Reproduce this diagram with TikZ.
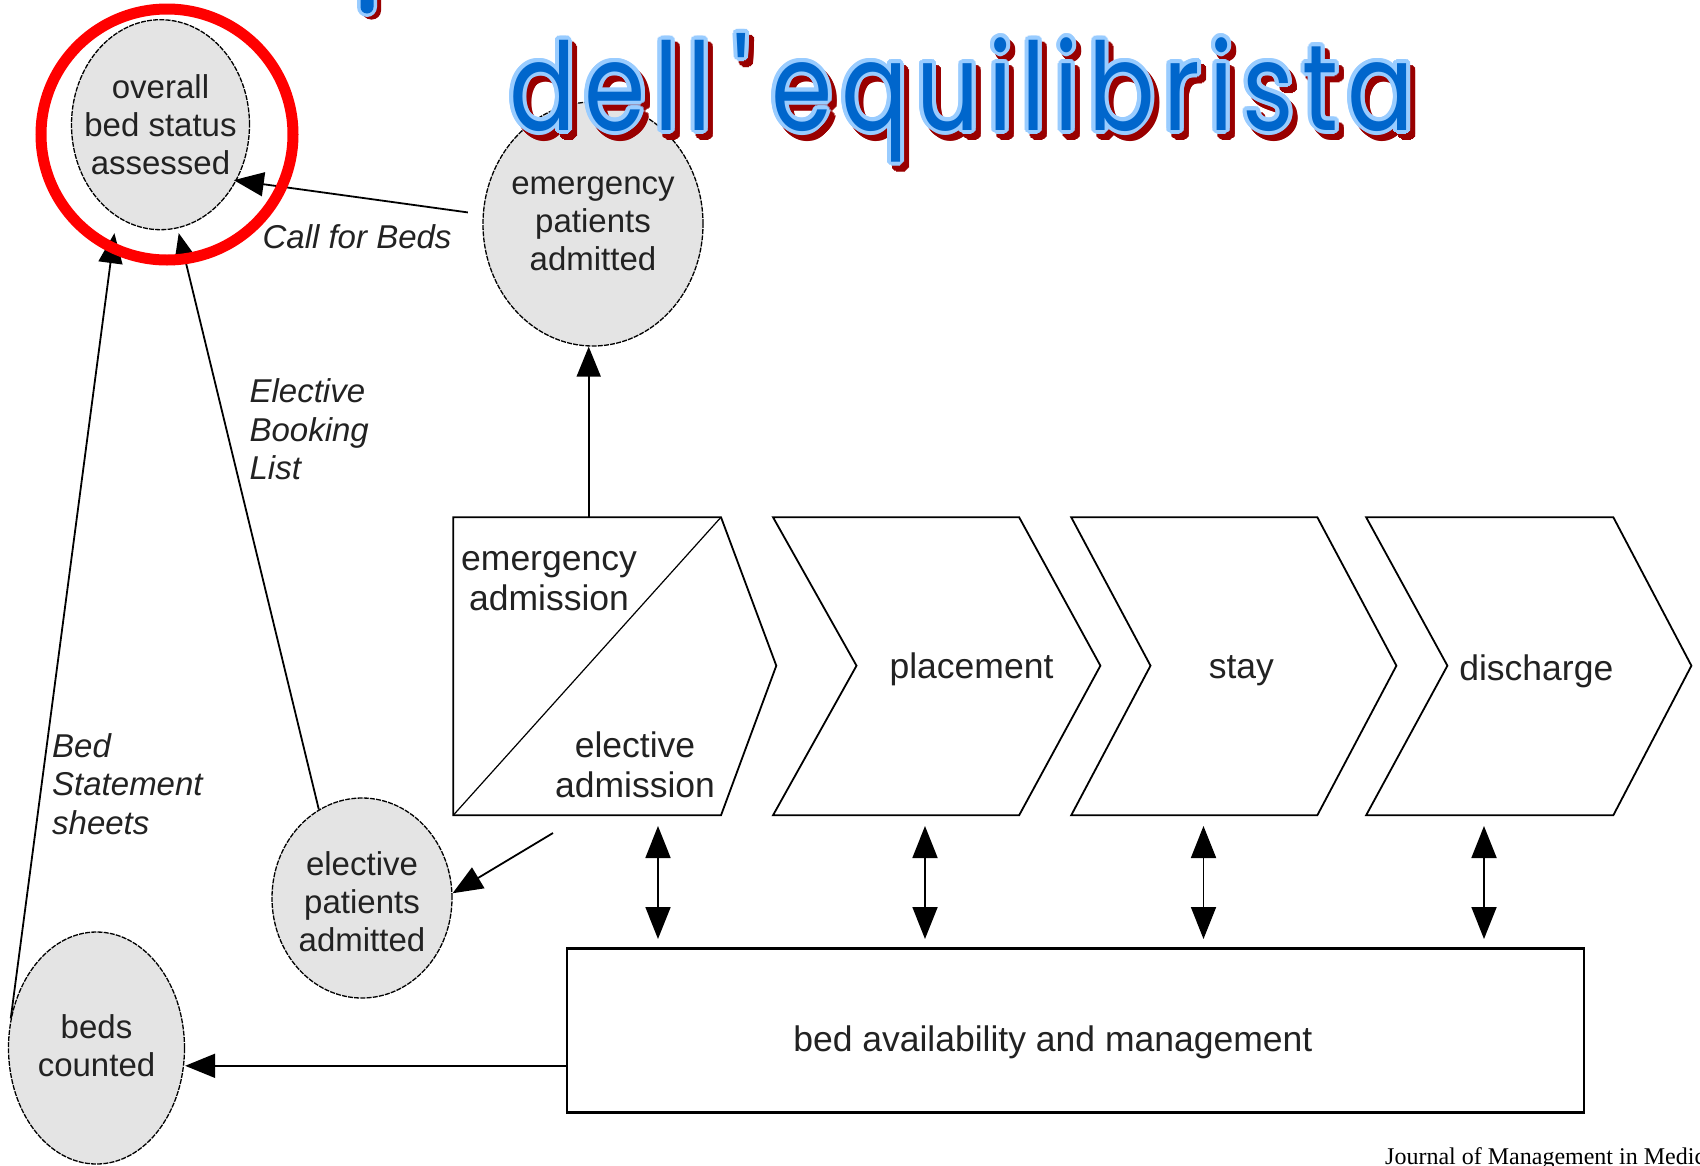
\documentclass[tikz,border=0pt]{standalone}
\usepackage{fontspec}
\setmainfont{Liberation Sans}
\newfontfamily\titlefont{Poppins}[LetterSpace=9]
\newfontfamily\journalfont{Liberation Serif}
\usetikzlibrary{shapes.geometric,arrows.meta}
\definecolor{ellgray}{HTML}{E4E4E4}
\definecolor{tblue}{HTML}{0066CC}
\definecolor{tlight}{HTML}{99CCFF}
\definecolor{tshadow}{HTML}{990000}
\definecolor{txt}{HTML}{222222}
\newcommand\titlebox{\resizebox{905pt}{97pt}{\titlefont dell\hspace{0.22em}\textquotesingle\hspace{0.22em}equilibrista}}
\tikzset{
  ell/.style={ellipse, draw=black, line width=1.3pt, dash pattern=on 5pt off 1.2pt, fill=ellgray, inner sep=0pt},
  elltext/.style={align=center, inner sep=0pt, font=\fontsize{33}{38}\selectfont, text=txt},
  arr/.style={-{Triangle[length=30pt,width=24pt]}, line width=1.8pt},
  dbl/.style={{Triangle[length=32pt,width=25pt]}-{Triangle[length=32pt,width=25pt]}, line width=1.8pt},
  lbl/.style={font=\fontsize{33}{38.5}\selectfont\itshape, text=txt, align=left, anchor=west, inner sep=0pt},
  chev/.style={draw=black, line width=1.8pt, line join=miter},
  ctext/.style={font=\fontsize{35.5}{40}\selectfont, text=txt, align=center, inner sep=0pt},
  ttl/.style={anchor=base west, inner sep=0pt, outer sep=0pt}
}
\begin{document}
\begin{tikzpicture}[x=1pt,y=-1pt]
\useasboundingbox (0,0) rectangle (1700,1165);
\clip (0,0) rectangle (1700,1165);
\fill[white] (0,0) rectangle (1700,1165);

% ellipses
\node[ell, minimum width=178pt, minimum height=210pt] (overall) at (160.5,124.7) {};
\node[elltext] (overallt) at (overall.center) {overall\\bed status\\assessed};
\node[ell, minimum width=220pt, minimum height=244pt] (emerg) at (593,224) {};
\node[elltext] (emergt) at (emerg.center) {emergency\\patients\\admitted};
\node[ell, minimum width=180pt, minimum height=200pt] (elect) at (362,898) {};
\node[elltext] (electt) at ([yshift=-4pt]elect.center) {elective\\patients\\admitted};
\node[ell, minimum width=176pt, minimum height=232pt] (beds) at (96.5,1048) {};
\node[elltext] (bedst) at ([yshift=2pt]beds.center) {beds\\counted};

% chevrons
\draw[chev] (453.2,517.2) -- (721,517.2) -- (776.3,665.7) -- (721,815.3) -- (453.2,815.3) -- cycle;
\draw[line width=1.2pt] (453.2,815.3) -- (721,517.2);
\draw[chev] (773,517.2) -- (1019.1,517.2) -- (1100.4,665.7) -- (1019.1,815.3) -- (773,815.3) -- (856.5,665.7) -- cycle;
\draw[chev] (1071.2,517.2) -- (1317.3,517.2) -- (1396.4,665.7) -- (1317.3,815.3) -- (1071.2,815.3) -- (1150.5,665.7) -- cycle;
\draw[chev] (1366.1,517.2) -- (1613.3,517.2) -- (1691.4,665.7) -- (1613.3,815.3) -- (1366.1,815.3) -- (1447.4,665.7) -- cycle;

\node[ctext] (tem) at (549,581) {emergency\\admission};
\node[ctext] (tel) at (635,765) {elective\\admission};
\node[ctext] (tpl) at (971.5,669) {placement};
\node[ctext] (tst) at (1241.4,671) {stay};
\node[ctext] (tdi) at (1536.3,671) {discharge};

% bed availability box
\node[draw=black, line width=2.5pt, minimum width=1017pt, minimum height=163.7pt, inner sep=0pt] (bedbox) at (1075.5,1030.5) {};
\node[ctext] (tbed) at (1052.8,1042) {bed availability and management};

% connectors
\draw[arr] ([xshift=-15pt]emerg.174) -- ([xshift=-3pt]overall.-36);
\node[lbl] (lcall) at (262.4,236.4) {Call for Beds};
\draw[arr] (elect.116) -- ([yshift=-5pt]overall.-80);
\node[lbl] (lebl) at (249.4,429.3) {Elective\\Booking\\List};
\draw[arr] (beds.161) -- ([shift={(-6pt,-14pt)}]overall.-113);
\node[lbl] (lbss) at (52,784) {Bed\\Statement\\sheets};

\coordinate (c1top) at (588.7,517.2);
\draw[arr] (c1top) -- (c1top |- emerg.south);
\coordinate (c1low) at (553,833);
\draw[arr] (c1low) -- (elect.3);
\coordinate (bb) at ([yshift=-35.3pt]bedbox.west);
\draw[arr] (bb) -- (bb -| beds.east);

\foreach \x [count=\i] in {658,925,1203.5,1484}{
  \coordinate (dt\i) at (\x,826);
  \coordinate (db\i) at (\x,939);
  \draw[dbl] (dt\i) -- (db\i);
}

% red circle
\draw[red, line width=11pt] (167,134.5) ellipse [x radius=126, y radius=125.5];

% journal footer
\node[anchor=base west, inner sep=0pt, font=\journalfont\fontsize{24}{28}\selectfont] (jrnl) at (1385,1164) {Journal of Management in Medicine};

% fragment of the line above the title
\fill[tshadow, rounded corners=9pt] (362,-30) rectangle (381,19.5);
\fill[tlight, rounded corners=10pt] (357,-30) rectangle (377,17);
\fill[tblue, rounded corners=6.5pt] (360.5,-30) rectangle (373.5,13.5);

% title
\foreach \a in {0,22.5,...,337.5}{
  \node[ttl, text=tshadow, shift={(\a:4)}] at (514,136) {\titlebox};
}
\foreach \a in {0,22.5,...,337.5}{
  \node[ttl, text=tlight, shift={(\a:4)}] at (509,130) {\titlebox};
}
\node[ttl, text=tblue] (title) at (509,130) {\titlebox};
\end{tikzpicture}
\end{document}
